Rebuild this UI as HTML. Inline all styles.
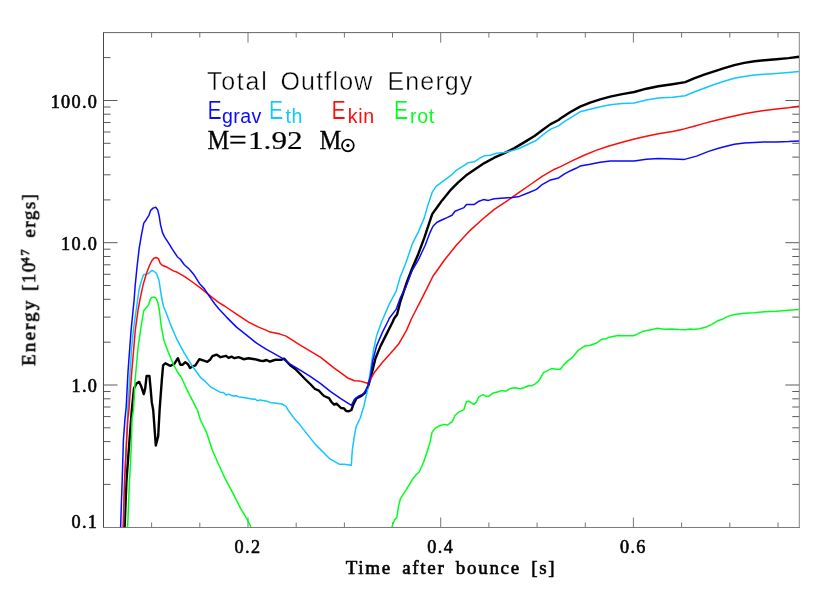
<!DOCTYPE html>
<html><head><meta charset="utf-8"><title>Total Outflow Energy</title>
<style>
html,body{margin:0;padding:0;background:#fff;}
body{width:830px;height:593px;overflow:hidden;font-family:"Liberation Sans",sans-serif;}
svg{display:block;}
</style></head><body>
<svg width="830" height="593" viewBox="0 0 830 593">
<rect x="0" y="0" width="830" height="593" fill="#ffffff"/>
<defs><clipPath id="c"><rect x="103.5" y="32.6" width="695.8" height="494.9"/></clipPath></defs>
<path d="M103.5,484.4 h7 M799.3,484.4 h-7 M103.5,459.4 h7 M799.3,459.4 h-7 M103.5,441.6 h7 M799.3,441.6 h-7 M103.5,427.8 h7 M799.3,427.8 h-7 M103.5,416.6 h7 M799.3,416.6 h-7 M103.5,407.0 h7 M799.3,407.0 h-7 M103.5,398.8 h7 M799.3,398.8 h-7 M103.5,391.5 h7 M799.3,391.5 h-7 M103.5,385.0 h14 M799.3,385.0 h-14 M103.5,342.2 h7 M799.3,342.2 h-7 M103.5,317.1 h7 M799.3,317.1 h-7 M103.5,299.3 h7 M799.3,299.3 h-7 M103.5,285.5 h7 M799.3,285.5 h-7 M103.5,274.3 h7 M799.3,274.3 h-7 M103.5,264.8 h7 M799.3,264.8 h-7 M103.5,256.5 h7 M799.3,256.5 h-7 M103.5,249.2 h7 M799.3,249.2 h-7 M103.5,242.7 h14 M799.3,242.7 h-14 M103.5,199.9 h7 M799.3,199.9 h-7 M103.5,174.8 h7 M799.3,174.8 h-7 M103.5,157.1 h7 M799.3,157.1 h-7 M103.5,143.3 h7 M799.3,143.3 h-7 M103.5,132.0 h7 M799.3,132.0 h-7 M103.5,122.5 h7 M799.3,122.5 h-7 M103.5,114.2 h7 M799.3,114.2 h-7 M103.5,107.0 h7 M799.3,107.0 h-7 M103.5,100.5 h14 M799.3,100.5 h-14 M103.5,57.6 h7 M799.3,57.6 h-7" stroke="#5c5c5c" stroke-width="1" fill="none"/>
<path d="M151.6,527.5 v-5 M151.6,32.6 v5 M199.8,527.5 v-5 M199.8,32.6 v5 M248.0,527.5 v-10 M248.0,32.6 v10 M296.2,527.5 v-5 M296.2,32.6 v5 M344.4,527.5 v-5 M344.4,32.6 v5 M392.5,527.5 v-5 M392.5,32.6 v5 M440.7,527.5 v-10 M440.7,32.6 v10 M488.9,527.5 v-5 M488.9,32.6 v5 M537.1,527.5 v-5 M537.1,32.6 v5 M585.3,527.5 v-5 M585.3,32.6 v5 M633.4,527.5 v-10 M633.4,32.6 v10 M681.6,527.5 v-5 M681.6,32.6 v5 M729.8,527.5 v-5 M729.8,32.6 v5 M778.0,527.5 v-5 M778.0,32.6 v5" stroke="#777777" stroke-width="1" fill="none"/>
<path d="M103.5,528.0 V32.1" stroke="#484848" stroke-width="1" fill="none"/>
<path d="M103.0,32.6 H799.8" stroke="#666666" stroke-width="1" fill="none"/>
<path d="M799.3,32.1 V528.0" stroke="#858585" stroke-width="1" fill="none"/>
<path d="M103.0,527.5 H799.8" stroke="#7c7c7c" stroke-width="1" fill="none"/>
<g clip-path="url(#c)" fill="none" stroke-linejoin="round" stroke-linecap="butt">
<path d="M124.6,527.5 L126.5,480.3 L129.5,440.0 L131.8,410.0 L134.0,388.4 L136.5,383.5 L139.2,381.9 L141.2,386.3 L143.8,394.0 L145.2,388.4 L146.6,375.9 L149.4,375.9 L150.6,388.4 L151.8,402.4 L153.2,410.0 L155.8,445.5 L158.2,436.1 L159.6,410.0 L160.6,396.4 L161.8,380.3 L163.1,365.3 L165.3,363.3 L170.3,365.9 L174.3,363.9 L177.9,358.2 L180.3,364.7 L182.7,364.7 L185.3,362.2 L187.7,363.9 L190.0,367.9 L192.8,366.3 L195.4,365.3 L199.4,359.2 L202.4,360.2 L207.4,361.8 L210.0,359.8 L212.4,356.2 L216.5,354.6 L220.5,357.2 L226.1,355.8 L228.5,357.8 L231.5,356.6 L234.5,358.2 L238.6,357.2 L243.6,359.2 L248.6,358.2 L254.6,359.2 L258.0,360.0 L261.0,360.9 L263.5,361.0 L266.5,360.0 L270.0,361.6 L273.0,360.5 L276.0,359.6 L281.0,359.9 L284.1,358.6 L290.2,365.2 L295.0,368.7 L300.2,374.0 L305.0,379.0 L310.2,384.0 L315.0,389.0 L319.0,390.7 L322.0,394.0 L324.0,396.0 L329.0,398.2 L331.5,402.0 L334.0,404.6 L336.5,403.6 L341.0,408.0 L344.0,408.4 L346.2,411.0 L349.0,411.2 L351.4,410.0 L353.4,404.4 L356.4,398.4 L361.4,395.9 L365.5,392.3 L368.5,385.3 L371.5,374.3 L375.5,358.2 L380.5,346.1 L386.5,334.1 L392.6,322.0 L394.1,318.5 L397.1,314.5 L400.1,302.4 L406.1,284.3 L412.2,268.3 L418.2,254.2 L424.2,238.2 L428.2,226.1 L432.2,214.1 L437.3,207.0 L442.1,200.4 L450.2,190.4 L458.2,182.3 L466.2,175.3 L474.3,169.7 L484.3,163.1 L494.3,157.7 L504.4,153.1 L514.4,148.1 L524.5,142.1 L534.5,136.0 L542.5,130.0 L550.6,124.1 L558.6,120.0 L560.0,118.8 L570.0,112.2 L580.1,106.6 L590.1,102.6 L600.2,99.3 L610.2,96.6 L622.2,94.1 L634.3,92.0 L646.3,88.7 L658.4,86.2 L672.4,84.2 L685.3,82.1 L694.1,78.3 L704.2,74.7 L714.2,71.3 L724.2,68.2 L734.3,65.2 L744.3,62.9 L754.4,61.3 L764.4,60.2 L776.4,59.2 L788.5,58.1 L799.0,56.8" stroke="#000000" stroke-width="2.4"/>
<path d="M127.6,527.5 L129.1,490.3 L131.1,450.2 L132.1,418.5 L133.5,410.0 L135.1,380.3 L138.2,346.2 L141.2,326.1 L143.6,311.0 L148.5,305.0 L150.5,298.7 L152.0,297.2 L154.5,297.2 L156.3,298.6 L158.0,303.0 L159.4,310.5 L161.2,326.1 L163.9,340.2 L168.3,352.2 L173.3,364.3 L178.3,373.3 L181.3,377.3 L185.3,386.3 L190.4,396.4 L195.4,406.4 L197.4,410.0 L200.4,420.0 L206.4,432.1 L212.4,450.2 L218.5,464.2 L224.5,477.3 L232.5,492.3 L240.6,508.4 L246.6,518.4 L251.0,526.9" stroke="#00ff1e" stroke-width="1.5"/>
<path d="M391.8,526.9 L394.5,520.0 L396.9,517.4 L398.5,506.4 L400.5,498.4 L406.5,489.3 L412.5,479.3 L416.5,474.3 L419.0,472.2 L423.6,462.2 L427.6,450.2 L430.0,442.4 L432.0,432.4 L435.0,428.4 L439.0,426.0 L444.1,424.4 L447.7,425.0 L450.1,423.0 L452.1,422.0 L455.1,415.3 L459.1,411.9 L463.7,409.9 L466.5,401.5 L469.2,401.3 L473.8,404.3 L476.2,402.3 L478.8,396.9 L483.2,394.7 L486.2,396.3 L488.6,396.3 L493.3,392.9 L498.3,391.8 L501.3,390.6 L505.9,391.2 L509.9,388.6 L515.3,387.8 L520.4,388.8 L524.0,387.8 L528.4,385.8 L531.4,385.8 L535.4,383.8 L539.0,380.6 L543.5,372.6 L547.5,370.6 L551.5,368.6 L556.5,369.2 L560.5,369.2 L563.5,365.1 L567.6,361.1 L572.6,357.1 L578.6,350.1 L584.6,346.1 L589.6,345.5 L596.0,343.3 L602.0,339.2 L606.1,338.8 L609.1,337.2 L618.1,335.6 L626.1,335.8 L633.2,335.8 L637.2,334.2 L642.2,331.6 L648.2,330.2 L652.2,329.4 L657.3,328.2 L664.3,329.2 L672.3,329.0 L678.4,329.6 L685.4,329.8 L690.4,329.0 L693.4,329.6 L699.4,328.8 L705.5,327.2 L711.5,324.6 L717.5,320.8 L722.5,319.2 L728.6,316.1 L734.6,314.5 L744.3,313.2 L754.4,312.8 L764.4,311.8 L776.4,311.2 L788.5,310.2 L799.0,309.4" stroke="#00ff1e" stroke-width="1.5"/>
<path d="M123.3,527.5 L124.7,480.0 L126.6,440.0 L127.8,409.0 L129.6,380.0 L131.5,350.0 L133.4,330.0 L137.6,300.0 L139.0,290.0 L141.0,282.0 L143.5,274.8 L146.0,274.2 L148.5,273.6 L150.0,272.0 L151.5,270.6 L153.5,271.0 L156.5,273.5 L159.0,280.5 L160.0,287.0 L161.0,294.0 L162.5,302.0 L163.7,307.0 L165.3,310.5 L170.3,324.1 L177.3,340.2 L184.3,353.2 L192.4,366.3 L200.4,377.3 L204.0,380.3 L211.0,387.2 L220.0,392.2 L223.5,392.4 L226.0,395.0 L228.5,394.1 L233.0,396.0 L236.0,395.8 L239.0,396.9 L245.0,397.8 L253.0,399.2 L255.0,399.0 L257.5,400.8 L260.0,399.9 L268.0,401.6 L270.1,402.4 L282.1,404.0 L286.1,406.4 L288.0,410.0 L294.2,418.4 L300.1,425.1 L315.1,444.1 L330.2,459.2 L339.2,464.2 L344.3,464.2 L351.3,465.2 L352.3,450.2 L354.3,436.1 L356.3,426.1 L360.3,418.0 L363.9,406.0 L367.5,390.3 L370.5,370.2 L373.5,350.2 L376.5,336.1 L381.5,322.0 L383.1,318.5 L389.1,304.4 L396.1,291.4 L400.1,277.3 L406.1,262.2 L412.2,244.2 L418.2,232.1 L424.2,218.1 L428.1,204.4 L432.1,192.4 L436.1,186.3 L444.1,180.3 L452.2,174.3 L456.2,170.3 L464.2,165.3 L468.2,162.7 L474.3,161.8 L480.3,157.8 L484.3,155.8 L490.3,155.2 L496.3,153.2 L504.4,152.4 L510.4,151.1 L518.4,148.7 L526.5,145.0 L536.5,140.2 L542.5,135.1 L550.6,129.1 L558.6,125.9 L564.6,121.4 L570.0,118.1 L580.1,111.8 L590.1,109.2 L600.2,106.7 L610.2,104.7 L622.2,103.6 L634.3,102.9 L646.3,99.9 L658.4,98.1 L672.4,97.2 L685.2,95.8 L694.1,92.0 L704.2,88.2 L714.2,84.5 L724.2,81.3 L734.3,78.3 L744.3,76.5 L754.4,75.1 L764.4,74.2 L776.4,73.4 L788.5,72.4 L799.0,71.4" stroke="#12c6ff" stroke-width="1.5"/>
<path d="M123.2,527.5 L124.6,480.0 L126.6,440.0 L127.9,418.5 L128.9,410.0 L131.4,376.3 L135.3,330.1 L138.2,309.0 L140.2,298.4 L143.2,284.4 L146.2,274.3 L149.2,266.3 L151.8,260.7 L153.8,258.3 L156.2,257.5 L158.6,258.9 L160.2,263.3 L162.2,265.3 L167.3,267.3 L173.3,270.9 L177.3,272.3 L184.3,276.3 L192.4,282.0 L200.4,287.8 L208.4,294.4 L218.5,302.4 L224.5,306.0 L236.5,314.1 L248.6,322.1 L258.6,327.1 L266.0,330.1 L270.1,332.1 L280.1,334.1 L286.1,336.1 L300.2,345.1 L320.3,357.2 L334.3,368.2 L348.4,378.3 L354.4,380.7 L359.4,380.9 L367.5,383.3 L370.5,379.3 L374.5,372.2 L382.5,362.2 L390.6,353.2 L398.6,344.1 L406.6,330.1 L411.6,318.5 L420.9,300.4 L428.8,284.6 L432.8,276.5 L444.3,260.2 L456.3,245.2 L470.4,230.1 L483.3,218.5 L494.3,209.4 L506.4,201.4 L518.4,192.9 L530.5,184.5 L542.5,176.1 L554.6,169.2 L560.0,166.9 L572.0,160.9 L584.1,155.3 L596.1,150.4 L608.2,146.3 L622.2,142.2 L634.3,139.1 L646.3,136.2 L658.4,133.7 L672.4,131.4 L684.1,128.9 L694.1,126.2 L704.2,123.4 L714.2,120.8 L724.2,118.2 L734.3,115.9 L744.3,113.7 L754.4,111.9 L764.4,110.5 L776.4,109.0 L788.5,107.8 L799.0,106.3" stroke="#ff0a0a" stroke-width="1.5"/>
<path d="M120.6,527.5 L121.5,500.0 L122.2,480.3 L123.4,440.1 L125.0,418.5 L126.2,407.0 L128.1,370.3 L131.1,330.1 L134.1,300.0 L135.1,286.4 L137.1,266.3 L139.2,248.2 L141.6,234.2 L143.8,223.1 L146.2,219.7 L148.8,215.7 L150.6,210.5 L153.0,208.1 L155.8,207.3 L157.8,210.1 L159.2,216.1 L160.6,225.1 L162.7,233.2 L164.7,237.2 L168.3,242.6 L172.3,249.2 L177.3,256.7 L180.3,259.3 L184.3,264.7 L189.4,269.3 L194.4,275.3 L199.4,283.4 L204.4,288.8 L209.4,296.4 L214.5,303.5 L218.5,308.5 L226.5,317.1 L236.5,327.1 L246.6,335.1 L256.6,343.2 L266.0,349.2 L270.1,351.4 L282.1,358.2 L290.2,364.2 L300.2,370.2 L310.2,376.3 L320.3,383.3 L330.3,391.3 L340.4,398.4 L351.4,405.4 L354.4,399.4 L358.4,396.3 L363.5,393.9 L367.5,387.3 L370.5,376.3 L372.9,360.2 L376.5,346.1 L382.5,332.1 L388.6,320.0 L389.1,318.5 L396.1,309.4 L400.1,298.4 L406.1,286.3 L412.2,270.3 L418.2,260.2 L425.2,245.2 L430.2,232.1 L433.0,226.2 L437.0,222.2 L442.3,219.7 L447.0,217.6 L452.0,215.2 L455.0,211.2 L459.0,209.6 L464.0,207.6 L466.5,204.6 L474.3,204.4 L479.0,201.2 L483.5,199.6 L488.3,200.4 L494.3,198.8 L504.4,198.0 L512.4,197.4 L519.4,196.4 L528.5,192.8 L536.5,189.4 L542.5,184.3 L550.6,179.9 L558.6,177.9 L564.6,173.9 L570.6,170.7 L576.0,168.3 L580.1,166.1 L590.1,164.3 L600.2,162.2 L610.2,161.1 L622.2,161.1 L634.3,161.0 L646.3,159.2 L658.4,158.5 L672.4,159.1 L684.5,159.4 L696.5,156.1 L708.6,151.4 L718.6,148.3 L724.2,146.8 L734.3,144.2 L744.3,142.9 L754.4,142.4 L764.4,142.0 L776.4,142.0 L788.5,141.6 L799.0,141.0" stroke="#0a0aff" stroke-width="1.5"/>
</g>
<g style="opacity:0.999">
<text x="98.3" y="107.7" text-anchor="end" font-family="Liberation Serif, serif" font-size="18.2" stroke="#000" stroke-width="0.58" letter-spacing="1.35">100.0</text>
<text x="98.3" y="249.9" text-anchor="end" font-family="Liberation Serif, serif" font-size="18.2" stroke="#000" stroke-width="0.58" letter-spacing="1.35">10.0</text>
<text x="98.3" y="392.2" text-anchor="end" font-family="Liberation Serif, serif" font-size="18.2" stroke="#000" stroke-width="0.58" letter-spacing="1.35">1.0</text>
<text x="98.3" y="527.9" text-anchor="end" font-family="Liberation Serif, serif" font-size="18.2" stroke="#000" stroke-width="0.58" letter-spacing="1.35">0.1</text>
<text x="248.0" y="552.6" text-anchor="middle" font-family="Liberation Serif, serif" font-size="18.2" stroke="#000" stroke-width="0.58" letter-spacing="1.35">0.2</text>
<text x="440.7" y="552.6" text-anchor="middle" font-family="Liberation Serif, serif" font-size="18.2" stroke="#000" stroke-width="0.58" letter-spacing="1.35">0.4</text>
<text x="633.4" y="552.6" text-anchor="middle" font-family="Liberation Serif, serif" font-size="18.2" stroke="#000" stroke-width="0.58" letter-spacing="1.35">0.6</text>
<text x="451" y="574" text-anchor="middle" font-family="Liberation Serif, serif" font-size="19" stroke="#000" stroke-width="0.6" letter-spacing="1.68" word-spacing="4">Time after bounce [s]</text>
<text transform="translate(35.2,279.2) rotate(-90)" text-anchor="middle" font-family="Liberation Serif, serif" font-size="19" stroke="#000" stroke-width="0.6" letter-spacing="1.5" word-spacing="4"><tspan letter-spacing="2.1">Energy</tspan><tspan dx="-2.6"> [10</tspan><tspan font-size="12.5" dy="-6.5" dx="-2.2">47</tspan><tspan dy="6.5"> ergs]</tspan></text>
<text y="90.2" font-family="Liberation Sans, sans-serif" font-size="25" letter-spacing="1.2" fill="#000" stroke="#fff" stroke-width="0.4"><tspan x="206.9" letter-spacing="1.75">Total</tspan> <tspan x="280.4">Outflow</tspan> <tspan x="387.6" letter-spacing="1.1">Energy</tspan></text>
<text transform="translate(207.4,119.4) scale(0.83,1)" font-family="Liberation Sans, sans-serif" font-size="25.6" fill="#0a0aff" stroke="#fff" stroke-width="0.2">E</text>
<text x="222" y="123.3" font-family="Liberation Sans, sans-serif" font-size="19.6" letter-spacing="0.4" fill="#0a0aff">grav</text>
<text transform="translate(268.9,119.4) scale(0.83,1)" font-family="Liberation Sans, sans-serif" font-size="25.6" fill="#12c6ff" stroke="#fff" stroke-width="0.2">E</text>
<text x="285.5" y="123.3" font-family="Liberation Sans, sans-serif" font-size="19.6" letter-spacing="0.6" fill="#12c6ff">th</text>
<text transform="translate(331.6,119.4) scale(0.83,1)" font-family="Liberation Sans, sans-serif" font-size="25.6" fill="#ff0a0a" stroke="#fff" stroke-width="0.2">E</text>
<text x="347.7" y="123.3" font-family="Liberation Sans, sans-serif" font-size="19.6" letter-spacing="0.7" fill="#ff0a0a">kin</text>
<text transform="translate(394.0,119.4) scale(0.83,1)" font-family="Liberation Sans, sans-serif" font-size="25.6" fill="#00ff1e" stroke="#fff" stroke-width="0.2">E</text>
<text x="410" y="123.3" font-family="Liberation Sans, sans-serif" font-size="19.6" letter-spacing="0.7" fill="#00ff1e">rot</text>
<text transform="translate(207.6,148.7) scale(0.92,1)" font-family="Liberation Serif, serif" font-size="26.6" stroke="#000" stroke-width="0.35">M</text>
<text transform="translate(229.0,148.7) scale(1.18,1)" font-family="Liberation Serif, serif" font-size="26.6" stroke="#000" stroke-width="0.35">=</text>
<text transform="translate(248.0,148.7) scale(1.2,1)" font-family="Liberation Serif, serif" font-size="26.0" stroke="#000" stroke-width="0.2">1.92</text>
<text transform="translate(319.4,148.7) scale(0.92,1)" font-family="Liberation Serif, serif" font-size="26.6" stroke="#000" stroke-width="0.35">M</text>
<circle cx="347.9" cy="145.4" r="5.9" fill="none" stroke="#000" stroke-width="1.7"/><circle cx="347.9" cy="145.4" r="1.6" fill="#000"/>
</g>
</svg>
</body></html>
